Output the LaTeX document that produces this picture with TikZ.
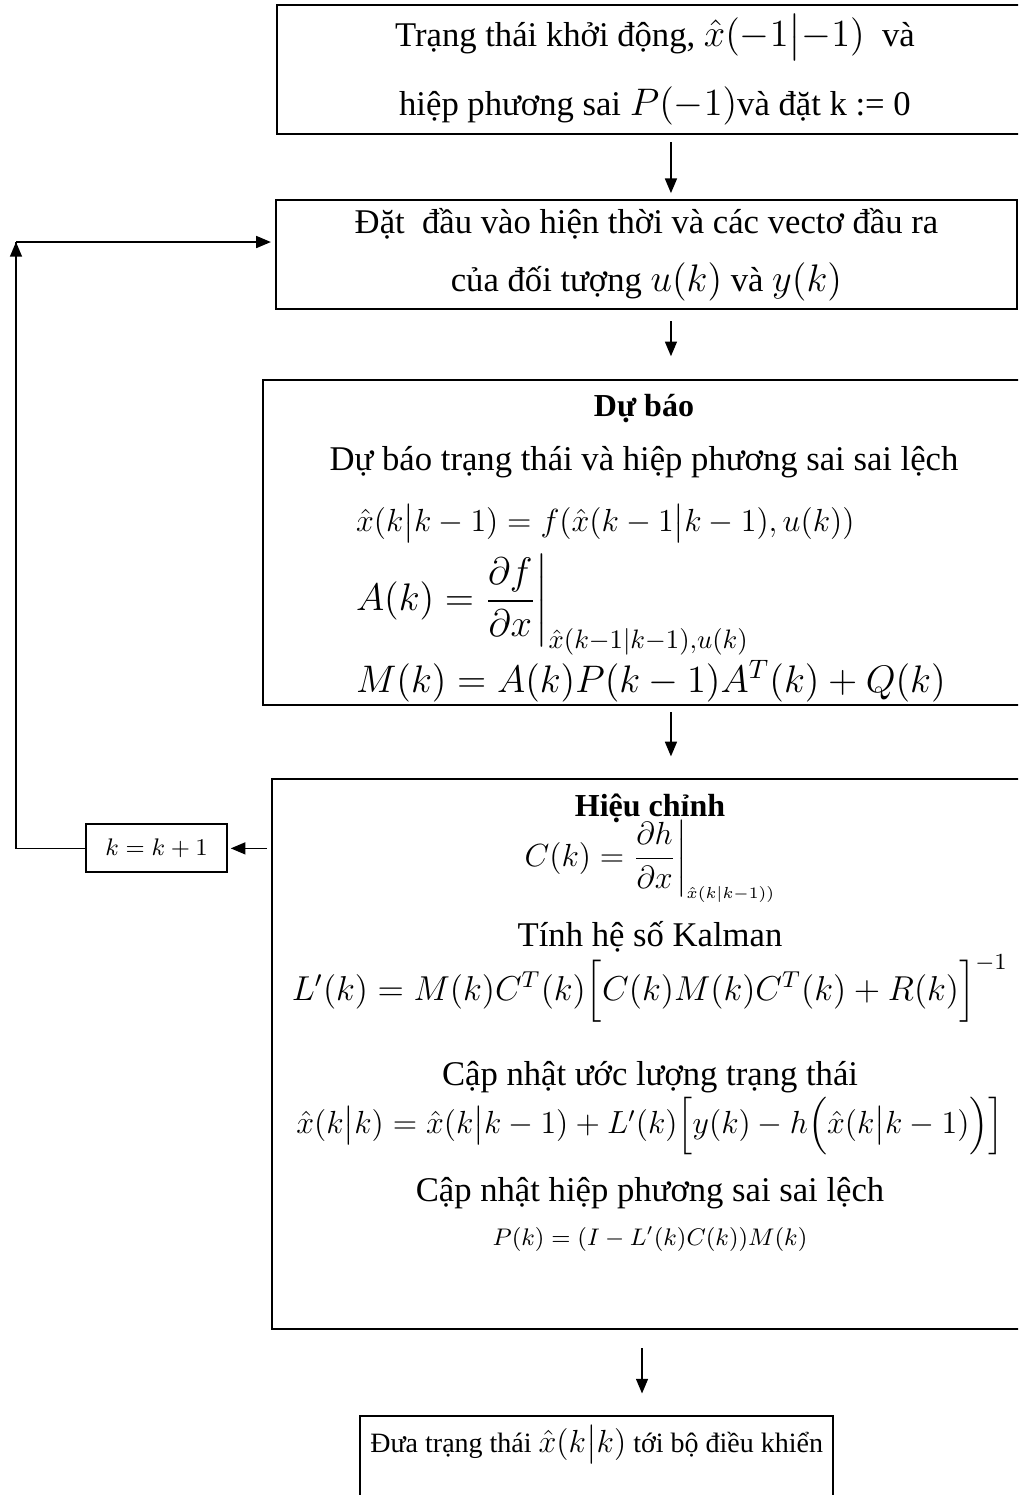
\documentclass[12pt,tikz,border=0pt]{standalone}
\usepackage{amsmath}
\usepackage{fontspec}
\setmainfont{Liberation Serif}
\usetikzlibrary{arrows.meta, positioning}

\begin{document}
\begin{tikzpicture}[
  box/.style={rectangle, draw, line width=0.75pt, inner sep=0pt, align=center, font=\fontsize{13}{15}\selectfont},
  boxtext/.style={align=center, inner sep=0pt, font=\fontsize{13}{15}\selectfont},
  kbox/.style={rectangle, draw, line width=0.75pt, minimum width=52.9pt, minimum height=18pt, inner sep=0pt, font=\fontsize{9}{11}\selectfont},
  arrow/.style={-{Triangle[length=5.5pt, width=4.5pt]}, line width=0.55pt},
]
  \useasboundingbox (0,0) rectangle (381.75pt,-560.6pt);
  \clip (0,0) rectangle (381.75pt,-560.6pt);

  \node[box, minimum width=283.5pt, minimum height=48.4pt] (init) at (245.6pt,-26.1pt)
    {Trạng thái khởi động, {\fontsize{14}{16}\selectfont$\hat{x}(-1\big|{-1})$}~ và\\[9pt]
     hiệp phương sai {\large $P(-1)$}và đặt k := 0};

  \node[box, minimum width=277.9pt, minimum height=40.9pt, below=24pt of init, xshift=-3.2pt] (meas)
    {Đặt~ đầu vào hiện thời và các vectơ đầu ra\\[7pt]
     của đối tượng {\large $u(k)$} và {\large $y(k)$}};

  \node[box, minimum width=285.75pt, minimum height=121.9pt, below=25.85pt of meas, xshift=-0.9pt] (pred) {};
  \node[boxtext, below=5.6pt of pred.north] (predText)
    {{\fontsize{12}{14}\selectfont\bfseries Dự báo}\\[5pt]
     Dự báo trạng thái và hiệp phương sai sai lệch\\[8pt]
     \makebox[216pt][l]{\fontsize{12}{14}\selectfont $\hat{x}(k\big|k-1) = f(\hat{x}(k-1\big|k-1),u(k))$}\\[3.5pt]
     \makebox[216pt][l]{\large $A(k) = \dfrac{\partial f}{\partial x}\bigg|_{\hat{x}(k-1|k-1),u(k)}$}\\[1pt]
     \makebox[216pt][l]{\large $M(k) = A(k)P(k-1)A^{T}(k)+Q(k)$}};

  \node[box, minimum width=283.5pt, minimum height=206.25pt, below=27.05pt of pred, xshift=2.25pt] (cor) {};
  \node[boxtext, below=5.6pt of cor.north] (corText)
    {{\fontsize{12}{14}\selectfont\bfseries Hiệu chỉnh}\\[-2pt]
     {\fontsize{12}{14}\selectfont $C(k) = \dfrac{\partial h}{\partial x}\bigg|_{\scriptscriptstyle\hat{x}(k|k-1))}$}\\[6.2pt]
     Tính hệ số Kalman\\[0pt]
     \scalebox{1.08}{\fontsize{12}{14}\selectfont $L'(k) = M(k)C^{T}(k)\Big[C(k)M(k)C^{T}(k)+R(k)\Big]^{-1}$}\\[13.3pt]
     Cập nhật ước lượng trạng thái\\[0.6pt]
     {\fontsize{11.5}{14}\selectfont $\hat{x}(k\big|k) = \hat{x}(k\big|k-1)+L'(k)\Big[y(k)-h\Big(\hat{x}(k\big|k-1)\Big)\Big]$}\\[7.6pt]
     Cập nhật hiệp phương sai sai lệch\\[1.5pt]
     {\fontsize{9}{11}\selectfont $P(k) = (I-L'(k)C(k))M(k)$}};

  \node[box, minimum width=177.4pt, font=\fontsize{10.5}{13}\selectfont, text height=13.5pt, text depth=25pt, below=31.9pt of cor, xshift=-20pt] (out)
    {Đưa trạng thái {\normalsize $\hat{x}(k\big|k)$} tới bộ điều khiển};

  \node[kbox, left=16.1pt of cor.north west, yshift=-26.25pt] (inc) {$k=k+1$};

  \coordinate (loop) at (6pt,-90.75pt);

  \draw[arrow, shorten <=2.6pt, shorten >=2.25pt] ([xshift=6pt]init.south) -- ([xshift=6pt]init.south |- meas.north);
  \draw[arrow, shorten <=4.1pt, shorten >=8.6pt] ([xshift=9.2pt]meas.south) -- ([xshift=9.2pt]meas.south |- pred.north);
  \draw[arrow, shorten <=2.25pt, shorten >=8.25pt] ([xshift=10.1pt]pred.south) -- ([xshift=10.1pt]pred.south |- cor.north);
  \draw[arrow, shorten <=6.75pt, shorten >=8.25pt] ([xshift=-3pt]cor.south) -- ([xshift=-3pt]cor.south |- out.north);

  \draw[arrow, shorten <=1.5pt, shorten >=1pt] (cor.west |- inc.east) -- (inc.east);
  \draw[line width=0.55pt] (inc.west) -| (loop);
  \draw[arrow] (inc.west -| loop) -- (loop);
  \draw[arrow, shorten >=1.5pt] (loop) -- (loop -| meas.west);
\end{tikzpicture}
\end{document}
